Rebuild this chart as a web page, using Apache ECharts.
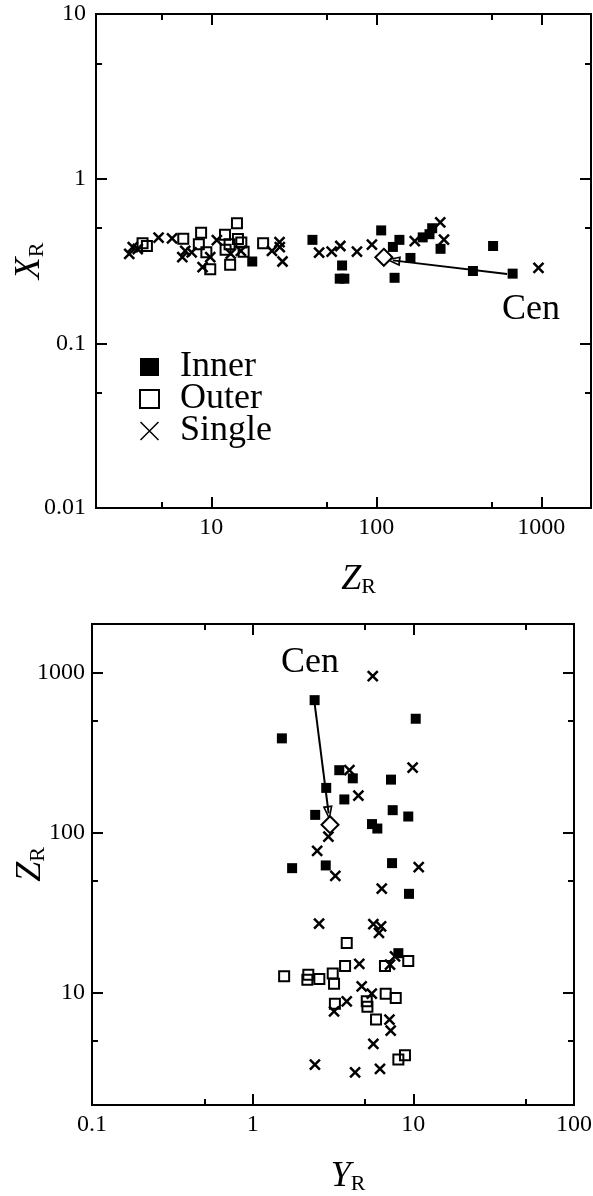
<!DOCTYPE html>
<html>
<head>
<meta charset="utf-8">
<script src="https://cdn.jsdelivr.net/npm/echarts@6/dist/echarts.min.js"></script>
<style>
html, body { margin: 0; padding: 0; background: #fff; }
#chart { width: 593px; height: 1196px; }
</style>
</head>
<body>
<div id="chart"></div>
<script>
// --- upper panel: Z_R (x) vs X_R (y) ---
const topInner = [[17.7,0.314],[41,0.425],[60,0.247],[62,0.297],[64,0.247],[107,0.485],[126,0.385],[129,0.25],
  [138,0.425],[161,0.33],[191,0.44],[210,0.46],[218,0.5],[245,0.375],[385,0.275],[510,0.39],[670,0.265]];
const topOuter = [[3.83,0.405],[4.07,0.39],[6.76,0.432],[8.4,0.40],[8.67,0.47],[9.33,0.358],[9.85,0.282],[12.1,0.457],
  [12.2,0.37],[12.9,0.40],[13,0.30],[14.3,0.537],[14.5,0.43],[15.2,0.41],[15.7,0.36],[20.6,0.405]];
const topSingle = [[3.18,0.349],[3.34,0.384],[3.58,0.374],[4.79,0.438],[5.78,0.434],[6.67,0.334],[6.95,0.364],[7.6,0.357],
  [8.85,0.29],[9.85,0.334],[10.8,0.423],[13.1,0.351],[15.1,0.364],[23.3,0.364],[25.9,0.412],[26,0.384],[27,0.314],
  [45,0.355],[53.6,0.36],[60.5,0.39],[76.3,0.36],[94,0.398],[171,0.418],[244,0.542],[257,0.427],[961,0.287]];
const topCen = [[111,0.333]];
const topArrow = [[620,0.264],[126,0.319]];

// --- lower panel: Y_R (x) vs Z_R (y) ---
const botInner = [[2.43,670],[1.52,387],[10.35,513],[3.46,245],[4.2,218],[7.26,214],[2.87,190],[3.72,161],[2.45,129],
  [7.44,138],[9.3,126],[5.53,113],[5.97,106],[1.76,60],[2.85,62.4],[7.37,64.5],[9.4,41.5],[8.07,17.7]];
const botOuter = [[1.57,12.7],[2.22,13],[2.19,12.1],[2.6,12.2],[3.15,13.2],[3.21,11.4],[3.76,14.7],[3.85,20.5],
  [3.25,8.55],[5.13,8.87],[5.18,8.19],[5.86,6.82],[6.73,9.9],[7.77,9.3],[6.66,14.7],[9.3,15.8],[8.07,3.85],[8.87,4.08]];
const botSingle = [[5.59,946],[4.0,245],[9.9,254],[4.55,170],[2.96,94.4],[2.52,76.9],[3.27,53.7],[6.36,44.8],[10.8,61],
  [2.59,27.1],[5.64,26.9],[6.3,26],[6.11,23.7],[4.61,15.2],[7.16,15],[7.69,16.9],[4.77,11],[5.51,9.9],[3.85,8.87],
  [3.21,7.68],[7.1,6.82],[7.23,5.82],[5.64,4.81],[2.44,3.57],[4.34,3.2],[6.2,3.36]];
const botCen = [[3.03,112]];
const botArrow = [[2.43,640],[2.97,132]];

// tick values
const zMajor = [10, 100, 1000], zMinor = [5, 50, 500];
const xrMajor = [0.01, 0.1, 1, 10], xrMinor = [0.05, 0.5, 5];
const yrMajor = [0.1, 1, 10, 100], yrMinor = [0.5, 5, 50];

const serif = 'Liberation Serif';
const cross = 'path://M0,0L10,10M10,0L0,10';
// open triangle (outline only) for the arrow heads
const openHead = 'path://M5,0L10,14L0,14Z M5,4.5L2.3,12.3L7.7,12.3Z';

function axisName(main) {
  return '{a|' + main + '}{b|R}';
}
const nameRich = {
  a: { fontFamily: serif, fontStyle: 'italic', fontSize: 36, lineHeight: 40, verticalAlign: 'bottom', color: '#000' },
  b: { fontFamily: serif, fontSize: 22, lineHeight: 22, verticalAlign: 'bottom', color: '#000' }
};

// four log axes per side pair: labelled + mirrored major, plus minor ticks on both sides
function axes(dim, gridIndex, min, max, majors, minors, name, nameGap, namePad, labelMargin) {
  const pos = dim === 'x' ? ['bottom', 'top'] : ['left', 'right'];
  const base = {
    type: 'log', logBase: 10, gridIndex, min, max,
    axisLine: { show: false, onZero: false }, splitLine: { show: false }, minorTick: { show: false }
  };
  const tick = (vals, len) => ({ show: true, inside: true, length: len, customValues: vals, lineStyle: { color: '#000', width: 2 } });
  return [
    { ...base, position: pos[0], axisTick: tick(majors, 11),
      axisLabel: { show: true, customValues: majors, formatter: v => String(+v.toPrecision(3)), fontFamily: serif, fontSize: 24, color: '#000', margin: labelMargin },
      name: axisName(name), nameLocation: 'middle', nameGap, nameMoveOverlap: false, nameRotate: dim === 'y' ? 90 : 0,
      nameTextStyle: { rich: nameRich, padding: namePad } },
    { ...base, position: pos[1], axisTick: tick(majors, 11), axisLabel: { show: false } },
    { ...base, position: pos[0], axisTick: tick(minors, 6), axisLabel: { show: false } },
    { ...base, position: pos[1], axisTick: tick(minors, 6), axisLabel: { show: false } }
  ];
}

function seriesSet(xi, yi, inner, outer, single, cen, arrow) {
  return [
    { name: 'Inner', type: 'scatter', xAxisIndex: xi, yAxisIndex: yi, data: inner, symbol: 'rect', symbolSize: 10,
      itemStyle: { color: '#000', opacity: 1 },
      markLine: { silent: true, symbol: ['none', openHead], symbolSize: [10, 15], label: { show: false },
        lineStyle: { color: '#000', width: 2, type: 'solid' },
        data: [[{ coord: arrow[0] }, { coord: arrow[1] }]] } },
    { name: 'Outer', type: 'scatter', xAxisIndex: xi, yAxisIndex: yi, data: outer, symbol: 'rect', symbolSize: 10,
      itemStyle: { color: 'rgba(0,0,0,0)', borderColor: '#000', borderWidth: 2, opacity: 1 } },
    { name: 'Single', type: 'scatter', xAxisIndex: xi, yAxisIndex: yi, data: single, symbol: cross, symbolSize: 10,
      itemStyle: { color: '#000', borderColor: '#000', borderWidth: 2.5, opacity: 1 } },
    { name: 'Cen', type: 'scatter', xAxisIndex: xi, yAxisIndex: yi, data: cen, symbol: 'diamond', symbolSize: 17, z: 5,
      itemStyle: { color: '#fff', borderColor: '#000', borderWidth: 2, opacity: 1 } }
  ];
}

const chart = echarts.init(document.getElementById('chart'));

const option = {
  backgroundColor: '#fff',
  animation: false,
  grid: [
    { left: 96, top: 14, width: 495, height: 494, show: true, borderColor: '#000', borderWidth: 2,
      backgroundColor: 'transparent', outerBoundsMode: 'none', containLabel: false },
    { left: 92, top: 624, width: 482, height: 481, show: true, borderColor: '#000', borderWidth: 2,
      backgroundColor: 'transparent', outerBoundsMode: 'none', containLabel: false }
  ],
  xAxis: [
    ...axes('x', 0, 2, 2000, zMajor, zMinor, 'Z', 50, [0, 0, 0, 30], 8),
    ...axes('x', 1, 0.1, 100, yrMajor, yrMinor, 'Y', 50, [0, 0, 0, 30], 8)
  ],
  yAxis: [
    ...axes('y', 0, 0.01, 10, xrMajor, xrMinor, 'X', 48, 0, 10),
    ...axes('y', 1, 2, 2000, zMajor, zMinor, 'Z', 43, 0, 7)
  ],
  legend: {
    data: [
      { name: 'Inner', icon: 'rect' },
      { name: 'Outer', icon: 'rect', itemStyle: { color: 'rgba(0,0,0,0)', borderColor: '#000', borderWidth: 2 } },
      { name: 'Single', icon: cross, itemStyle: { color: '#000', borderColor: '#000', borderWidth: 1.5 } }
    ],
    orient: 'vertical', left: 134, top: 344, itemWidth: 19, itemHeight: 18, itemGap: -4,
    selectedMode: false,
    textStyle: { fontFamily: serif, fontSize: 36, color: '#000', padding: [0, 0, 0, 16] }
  },
  graphic: [
    { type: 'text', left: 502, top: 292, style: { text: 'Cen', font: '36px "Liberation Serif"', fill: '#000' } },
    { type: 'text', left: 281, top: 645, style: { text: 'Cen', font: '36px "Liberation Serif"', fill: '#000' } }
  ],
  series: [
    ...seriesSet(0, 0, topInner, topOuter, topSingle, topCen, topArrow),
    ...seriesSet(4, 4, botInner, botOuter, botSingle, botCen, botArrow)
  ]
};

chart.setOption(option);
</script>
</body>
</html>
